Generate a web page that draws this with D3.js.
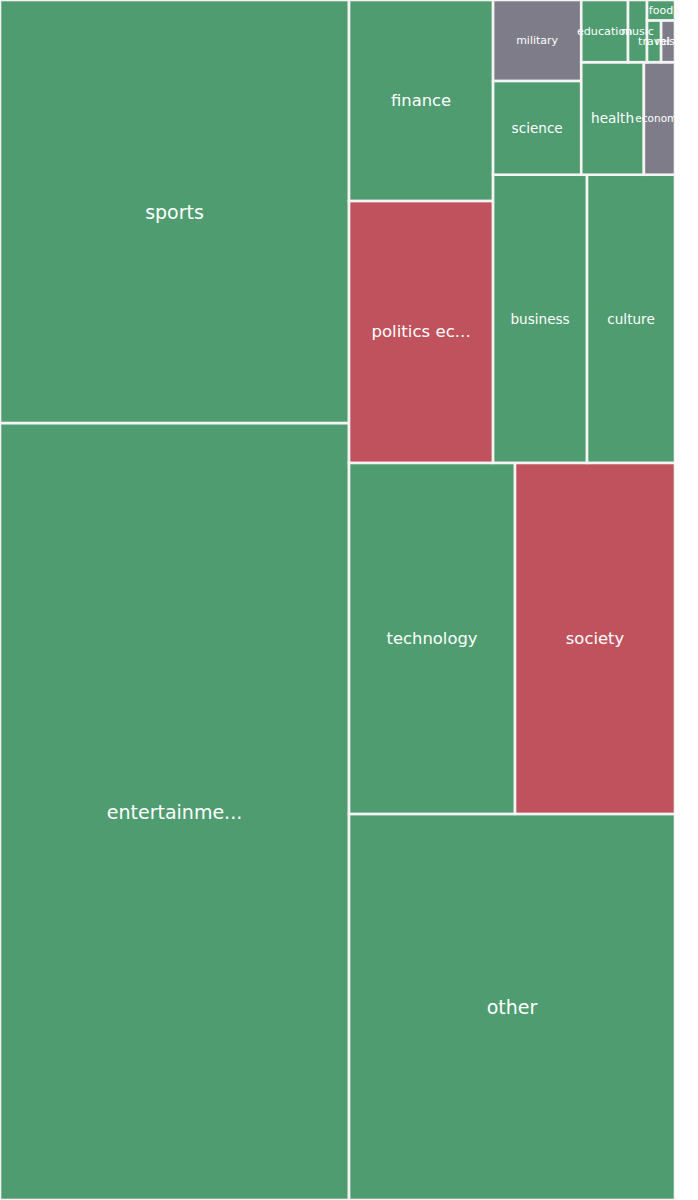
<!DOCTYPE html>
<html><head><meta charset="utf-8">
<script src="https://cdn.jsdelivr.net/npm/d3@7"></script>
<style>
body{margin:0;background:#fff}
svg{display:block;overflow:hidden}
text{font-family:"DejaVu Sans",sans-serif}
</style>
</head><body><svg id="chart"></svg>
<script>
// ---- data ----
const categories = ["entertainment","sports","other","technology","society","politics economy","finance","business","culture","science","military","health","economy","education","music","travel","misc","food"];
const values = [2711.7,1476.3,1258.4,582.7,561.6,377.3,289.4,270.7,253.4,82.7,71.3,70.5,35.0,29.1,11.8,5.9,5.8,5.7];
const sentiments = ["positive","positive","positive","positive","negative","negative","positive","positive","positive","positive","neutral","positive","neutral","positive","positive","positive","neutral","positive"];

// ---- styles ----
const W = 675, H = 1200;
const colorScale = d3.scaleOrdinal().domain(["positive","negative","neutral"]).range(["#4e9c6f","#bf525c","#7d7c88"]);
const labelSize = {"entertainment":19,"sports":19,"other":19,"technology":16.4,"society":16.4,"politics economy":16.6,"finance":16.4,
  "business":13.6,"culture":13.6,"science":13.6,"health":13.6,"military":11,"economy":10.5,"education":11.2,"music":11,"travel":11,"misc":11,"food":11};

// squarify tiling (row/column alternation as in the classic squarify algorithm)
function squarifyTile(parent, x0, y0, x1, y1) {
  const nodes = parent.children;
  const total = d3.sum(nodes, d => d.value);
  const dw = x1 - x0, dh = y1 - y0;
  const sizes = nodes.map(d => d.value * dw * dh / total);
  function layout(sz, x, y, dx, dy) {
    const out = [], cov = d3.sum(sz);
    if (dx >= dy) { const w = cov / dy; let yy = y; for (const s of sz) { out.push([x, yy, w, s / w]); yy += s / w; } }
    else { const h = cov / dx; let xx = x; for (const s of sz) { out.push([xx, y, s / h, h]); xx += s / h; } }
    return out;
  }
  function leftover(sz, x, y, dx, dy) {
    const cov = d3.sum(sz);
    if (dx >= dy) { const w = cov / dy; return [x + w, y, dx - w, dy]; }
    const h = cov / dx; return [x, y + h, dx, dy - h];
  }
  function worst(sz, x, y, dx, dy) {
    return d3.max(layout(sz, x, y, dx, dy), r => Math.max(r[2] / r[3], r[3] / r[2]));
  }
  function sq(sz, x, y, dx, dy) {
    if (!sz.length) return [];
    if (sz.length === 1) return layout(sz, x, y, dx, dy);
    let i = 1;
    while (i < sz.length && worst(sz.slice(0, i), x, y, dx, dy) >= worst(sz.slice(0, i + 1), x, y, dx, dy)) i++;
    const cur = sz.slice(0, i), rem = sz.slice(i);
    const [lx, ly, ldx, ldy] = leftover(cur, x, y, dx, dy);
    return layout(cur, x, y, dx, dy).concat(sq(rem, lx, ly, ldx, ldy));
  }
  const rects = sq(sizes, x0, y0, dw, dh);
  nodes.forEach((n, i) => { const r = rects[i]; n.x0 = r[0]; n.y0 = r[1]; n.x1 = r[0] + r[2]; n.y1 = r[1] + r[3]; });
}

const data = categories.map((c, i) => ({name: c, value: values[i], sentiment: sentiments[i]}));
const root = d3.hierarchy({children: data}).sum(d => d.value || 0).sort((a, b) => b.value - a.value);
d3.treemap().tile(squarifyTile).size([100, 100]).round(false)(root);

const x = d3.scaleLinear().domain([0, 100]).range([0, W]);
const y = d3.scaleLinear().domain([0, 100]).range([H, 0]);

const svg = d3.select("#chart").attr("width", W).attr("height", H);
const leaves = root.leaves();

svg.append("g").selectAll("rect").data(leaves).join("rect")
  .attr("x", d => x(d.x0))
  .attr("y", d => y(d.y1))
  .attr("width", d => x(d.x1) - x(d.x0))
  .attr("height", d => y(d.y0) - y(d.y1))
  .attr("fill", d => colorScale(d.data.sentiment))
  .attr("stroke", "#f4f4f4")
  .attr("stroke-width", 2.6);

const fmt = s => s.length > 12 ? s.slice(0, 11) + "..." : s;
svg.append("g").selectAll("text").data(leaves).join("text")
  .attr("x", d => (x(d.x0) + x(d.x1)) / 2)
  .attr("y", d => (y(d.y0) + y(d.y1)) / 2)
  .attr("text-anchor", "middle")
  .attr("dominant-baseline", "central")
  .attr("fill", "#ffffff")
  .attr("font-size", d => labelSize[d.data.name] + "px")
  .text(d => fmt(d.data.name));
</script>
</body></html>
